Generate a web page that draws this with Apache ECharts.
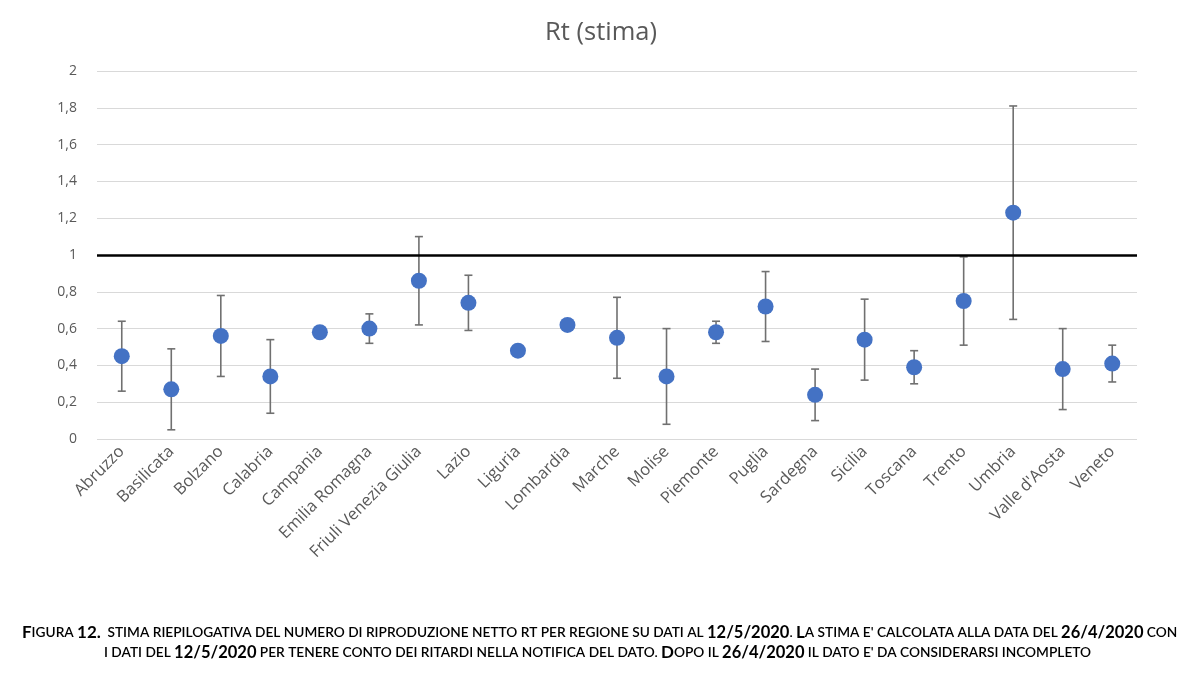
<!DOCTYPE html>
<html>
<head>
<meta charset="utf-8">
<script src="https://cdn.jsdelivr.net/npm/echarts@6/dist/echarts.min.js"></script>
<style>
html,body{margin:0;padding:0;background:#fff;}
#chart{width:1202px;height:684px;}
</style>
</head>
<body>
<div id="chart"></div>
<script>
const categories = ["Abruzzo","Basilicata","Bolzano","Calabria","Campania","Emilia Romagna","Friuli Venezia Giulia","Lazio","Liguria","Lombardia","Marche","Molise","Piemonte","Puglia","Sardegna","Sicilia","Toscana","Trento","Umbria","Valle d'Aosta","Veneto"];
const rt   = [0.45,0.27,0.56,0.34,0.58,0.60,0.86,0.74,0.48,0.62,0.55,0.34,0.58,0.72,0.24,0.54,0.39,0.75,1.23,0.38,0.41];
const low  = [0.26,0.05,0.34,0.14,null,0.52,0.62,0.59,null,null,0.33,0.08,0.52,0.53,0.10,0.32,0.30,0.51,0.65,0.16,0.31];
const high = [0.64,0.49,0.78,0.54,null,0.68,1.10,0.89,null,null,0.77,0.60,0.64,0.91,0.38,0.76,0.48,0.99,1.81,0.60,0.51];
const threshold = 1;
const yTicks = {min:0, max:2, interval:0.2};

const errData = categories.map((c,i)=> low[i]==null ? null : [i, low[i], high[i]]).filter(d=>d);

const chart = echarts.init(document.getElementById('chart'));
const capBase = {fontSize:13.7, fontWeight:600, color:'#23506a', fontFamily:'Lato'};
const capRich = {
  n:Object.assign({}, capBase),
  b:Object.assign({}, capBase, {fontSize:17, fontWeight:700}),
  d:Object.assign({}, capBase, {fontSize:16.5, fontWeight:700})
};
chart.setOption({
  animation:false,
  title:{text:'Rt (stima)', left:'center', top:15, textStyle:{fontFamily:'Open Sans', fontWeight:'normal', fontSize:25.5, color:'#595959'}},
  grid:{left:97, right:65, top:71, bottom:245, containLabel:false},
  xAxis:{type:'category', data:categories, boundaryGap:true,
    axisLine:{show:false}, axisTick:{show:false},
    axisLabel:{rotate:45, interval:0, color:'#595959', fontSize:16.5, fontFamily:'Open Sans', margin:10}},
  yAxis:{type:'value', min:yTicks.min, max:yTicks.max, interval:yTicks.interval,
    axisLine:{show:false}, axisTick:{show:false},
    splitLine:{lineStyle:{color:'#d9d9d9', width:1}},
    axisLabel:{color:'#595959', fontSize:14, fontFamily:'Open Sans', margin:20,
      formatter:v=>String(Math.round(v*10)/10).replace('.',',')}},
  series:[
    {type:'custom', data:errData, z:2,
      renderItem:(params, api)=>{
        const x = api.value(0);
        const lo = api.coord([x, api.value(1)]);
        const hi = api.coord([x, api.value(2)]);
        const w = 4;
        const st = {stroke:'#707070', lineWidth:1.6};
        return {type:'group', children:[
          {type:'line', shape:{x1:lo[0],y1:lo[1],x2:hi[0],y2:hi[1]}, style:st},
          {type:'line', shape:{x1:lo[0]-w,y1:lo[1],x2:lo[0]+w,y2:lo[1]}, style:st},
          {type:'line', shape:{x1:hi[0]-w,y1:hi[1],x2:hi[0]+w,y2:hi[1]}, style:st}
        ]};
      }},
    {type:'scatter', data:rt, symbol:'circle', symbolSize:16, z:3,
      itemStyle:{color:'#4472c4', opacity:1},
      markLine:{silent:true, symbol:'none', label:{show:false},
        lineStyle:{color:'#000', width:2.6, type:'solid'},
        data:[{yAxis:threshold}]}}
  ],
  graphic:[
    {type:'text', left:22, top:624, style:{
      text:'{b|F}{n|IGURA} {b|12.}  {n|STIMA RIEPILOGATIVA DEL NUMERO DI RIPRODUZIONE NETTO RT PER REGIONE SU DATI AL} {d|12/5/2020}{n|.} {b|L}{n|A STIMA E\' CALCOLATA ALLA DATA DEL} {d|26/4/2020} {n|CON}',
      rich:capRich}},
    {type:'text', left:104, top:644, style:{
      text:'{n|I DATI DEL} {d|12/5/2020} {n|PER TENERE CONTO DEI RITARDI NELLA NOTIFICA DEL DATO.} {b|D}{n|OPO IL} {d|26/4/2020} {n|IL DATO E\' DA CONSIDERARSI INCOMPLETO}',
      rich:capRich}}
  ]
});
</script>
</body>
</html>
